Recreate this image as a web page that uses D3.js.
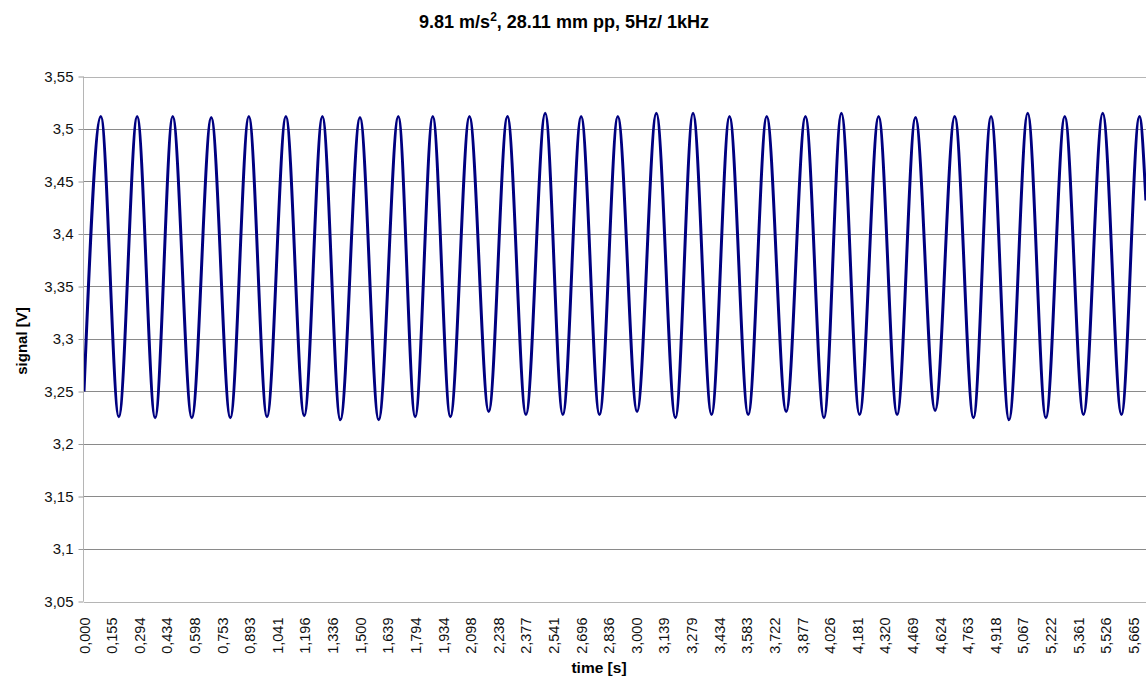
<!DOCTYPE html>
<html>
<head>
<meta charset="utf-8">
<script src="https://cdn.jsdelivr.net/npm/d3@7"></script>
<style>
  html, body { margin: 0; padding: 0; background: #fff; }
  svg { display: block; }
  text { font-family: "Liberation Sans", Arial, sans-serif; }
</style>
</head>
<body>
<script>
// ---------------- data ----------------
const xTickLabels = ["0,000","0,155","0,294","0,434","0,598","0,753","0,893","1,041","1,196","1,336",
  "1,500","1,639","1,794","1,934","2,098","2,238","2,377","2,541","2,696","2,836",
  "3,000","3,139","3,279","3,434","3,583","3,722","3,877","4,026","4,181","4,320",
  "4,469","4,624","4,763","4,918","5,067","5,222","5,361","5,526","5,665"];
const yTickValues = [3.05,3.1,3.15,3.2,3.25,3.3,3.35,3.4,3.45,3.5,3.55];
const yTickLabels = ["3,05","3,1","3,15","3,2","3,25","3,3","3,35","3,4","3,45","3,5","3,55"];

// signal [V] maxima (time s, value V)
const peakTimes = [0.091,0.287,0.479,0.687,0.890,1.090,1.287,1.490,1.697,1.883,
  2.081,2.286,2.490,2.684,2.882,3.090,3.288,3.485,3.686,3.895,
  4.089,4.290,4.489,4.701,4.897,5.095,5.295,5.500,5.698];
const peakValues = [3.512,3.512,3.512,3.511,3.512,3.512,3.512,3.511,3.512,3.512,
  3.512,3.512,3.515,3.512,3.512,3.515,3.515,3.512,3.512,3.512,
  3.515,3.512,3.511,3.512,3.512,3.515,3.512,3.515,3.512];
// signal [V] minima
const troughTimes = [0.188,0.384,0.582,0.790,0.988,1.189,1.384,1.591,1.788,1.978,
  2.185,2.386,2.585,2.783,2.986,3.193,3.388,3.586,3.791,3.995,
  4.187,4.390,4.595,4.802,4.994,5.193,5.396,5.601];
const troughValues = [3.226,3.225,3.225,3.225,3.226,3.227,3.223,3.223,3.226,3.226,
  3.231,3.228,3.228,3.228,3.231,3.225,3.228,3.228,3.231,3.225,
  3.228,3.228,3.232,3.225,3.223,3.225,3.228,3.228];
// first and last visible samples
const startSample = {t: 0.000, v: 3.250};
const endSample = {t: 5.733, v: 3.432};

// ---------------- layout ----------------
const W = 1146, H = 679;
const plot = {left: 84, right: 1150, top: 76.5, bottom: 601.5};
const lastLabelX = 1133.3;

const svg = d3.select("body").append("svg").attr("width", W).attr("height", H);

const y = d3.scaleLinear().domain([3.05, 3.55]).range([plot.bottom, plot.top]);
const xLab = d3.scalePoint().domain(xTickLabels).range([plot.left, lastLabelX]);
const x = d3.scaleLinear().domain([0, 5.665]).range([plot.left, lastLabelX]);

// gridlines
svg.append("g").selectAll("line").data(yTickValues.slice(1, -1)).join("line")
  .attr("x1", plot.left).attr("x2", plot.right)
  .attr("y1", d => Math.round(y(d)) + 0.5).attr("y2", d => Math.round(y(d)) + 0.5)
  .attr("stroke", "#8a8a8a").attr("stroke-width", 1);
// top border
svg.append("line").attr("x1", plot.left).attr("x2", plot.right)
  .attr("y1", Math.round(y(3.55)) + 0.5).attr("y2", Math.round(y(3.55)) + 0.5)
  .attr("stroke", "#b5b5b5");

// y axis
const yAxis = svg.append("g").attr("transform", `translate(${plot.left - 0.5},0)`)
  .call(d3.axisLeft(y).tickValues(yTickValues).tickFormat((d, i) => yTickLabels[i]).tickSize(5).tickPadding(5));
yAxis.select(".domain").attr("stroke", "#b5b5b5").attr("d", `M0,${plot.top}V${plot.bottom}`);
yAxis.selectAll(".tick line").attr("stroke", "#9a9a9a");
yAxis.selectAll(".tick text").attr("font-size", 15).attr("fill", "#111")
  .attr("font-family", "'Liberation Sans', Arial, sans-serif");

// x axis
const xAxis = svg.append("g").attr("transform", `translate(0,${Math.round(plot.bottom) + 0.5})`)
  .call(d3.axisBottom(xLab).tickSize(0).tickPadding(0));
xAxis.select(".domain").attr("stroke", "#b5b5b5").attr("d", `M${plot.left},0H${plot.right}`);
xAxis.selectAll(".tick text")
  .attr("font-size", 14.5).attr("fill", "#111")
  .attr("font-family", "'Liberation Sans', Arial, sans-serif")
  .attr("text-anchor", "end")
  .attr("transform", "rotate(-90)")
  .attr("x", -15).attr("y", 0).attr("dy", "0.35em");

// signal line
const pts = [startSample]
  .concat(peakTimes.map((t, i) => ({t, v: peakValues[i]})))
  .concat(troughTimes.map((t, i) => ({t, v: troughValues[i]})))
  .concat([endSample])
  .sort((a, b) => a.t - b.t);

svg.append("clipPath").attr("id", "clip").append("rect")
  .attr("x", plot.left).attr("y", plot.top - 20).attr("width", plot.right - plot.left).attr("height", plot.bottom - plot.top + 20);

svg.append("path").datum(pts)
  .attr("clip-path", "url(#clip)")
  .attr("fill", "none").attr("stroke", "#000080").attr("stroke-width", 3)
  .attr("stroke-linejoin", "round")
  .attr("d", d3.line().x(d => x(d.t)).y(d => y(d.v)).curve(d3.curveMonotoneX));

// title
const title = svg.append("text").attr("x", 564).attr("y", 28).attr("text-anchor", "middle")
  .attr("font-size", 18).attr("font-weight", "bold").attr("fill", "#000");
title.append("tspan").text("9.81 m/s");
title.append("tspan").attr("dy", -7).attr("font-size", 12).text("2");
title.append("tspan").attr("dy", 7).text(", 28.11 mm pp, 5Hz/ 1kHz");

// axis titles
svg.append("text").attr("x", 599).attr("y", 673).attr("text-anchor", "middle")
  .attr("font-size", 15.5).attr("font-weight", "bold").text("time [s]");
svg.append("text").attr("transform", "translate(27,341) rotate(-90)").attr("text-anchor", "middle")
  .attr("font-size", 15).attr("font-weight", "bold").text("signal [V]");
</script>
</body>
</html>
